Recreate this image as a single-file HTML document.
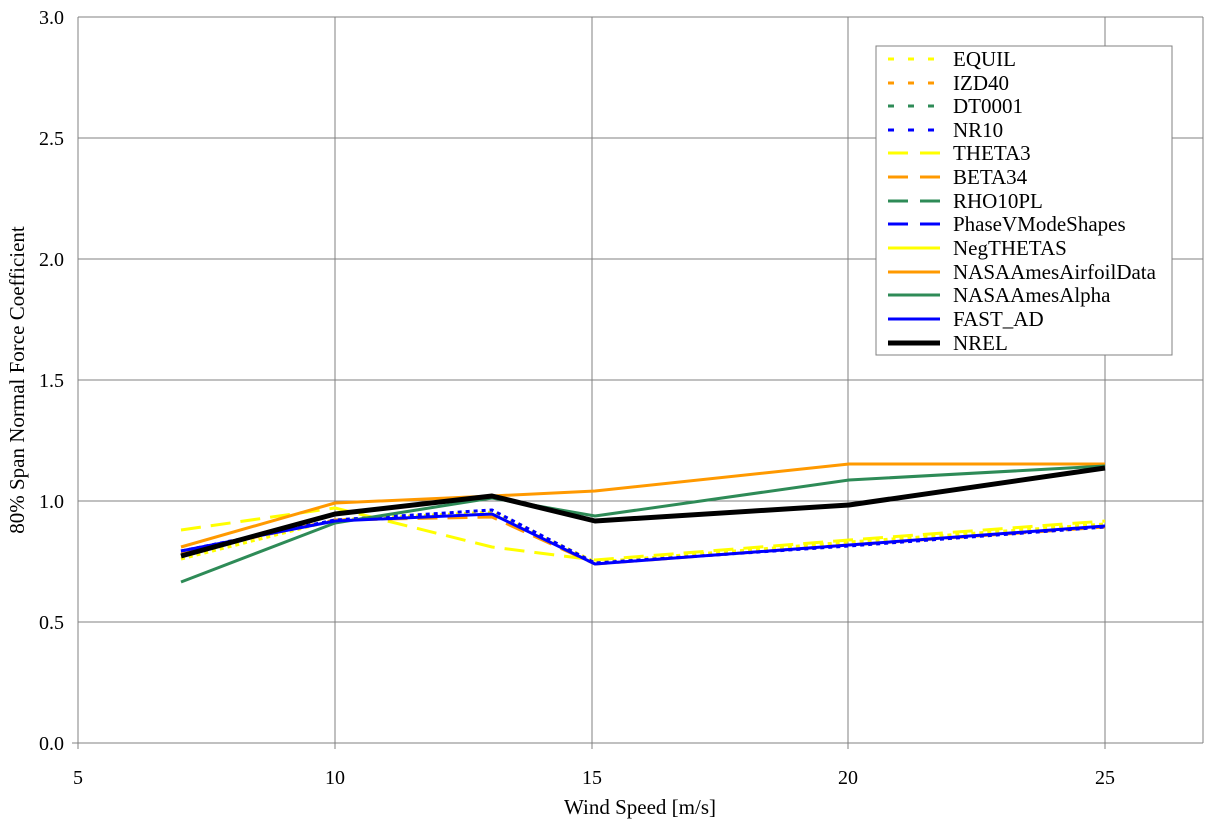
<!DOCTYPE html>
<html><head><style>body{margin:0;background:#fff}</style></head><body>
<svg width="1206" height="822" xmlns="http://www.w3.org/2000/svg" font-family="Liberation Serif, serif">
<rect width="1206" height="822" fill="#fff"/>
<g stroke="#808080" stroke-width="1">
<line x1="78" y1="17" x2="1203" y2="17"/><line x1="78" y1="138" x2="1203" y2="138"/><line x1="78" y1="259" x2="1203" y2="259"/><line x1="78" y1="380" x2="1203" y2="380"/><line x1="78" y1="501" x2="1203" y2="501"/><line x1="78" y1="622" x2="1203" y2="622"/>
<line x1="335" y1="17" x2="335" y2="749"/><line x1="592" y1="17" x2="592" y2="749"/><line x1="848" y1="17" x2="848" y2="749"/><line x1="1105" y1="17" x2="1105" y2="749"/>
<line x1="78" y1="17" x2="78" y2="749"/><line x1="1203" y1="17" x2="1203" y2="743"/>
<line x1="72" y1="743" x2="1203" y2="743"/>
</g>
<g font-size="20" text-anchor="end" fill="#000">
<text x="64" y="24">3.0</text><text x="64" y="145">2.5</text><text x="64" y="266">2.0</text><text x="64" y="387">1.5</text><text x="64" y="508">1.0</text><text x="64" y="629">0.5</text><text x="64" y="750">0.0</text>
</g>
<g font-size="20" text-anchor="middle">
<text x="78" y="784">5</text><text x="335" y="784">10</text><text x="592" y="784">15</text><text x="848" y="784">20</text><text x="1105" y="784">25</text>
</g>
<g font-size="21" text-anchor="middle">
<text x="640" y="814">Wind Speed [m/s]</text>
<text transform="translate(24,380) rotate(-90)">80% Span Normal Force Coefficient</text>
</g>
<g fill="none" stroke-linejoin="round">
<polyline points="181,559 335,520 492,512 595,562 849,542 1105,524" stroke="#ffff00" stroke-width="3" stroke-dasharray="4,4"/>
<polyline points="181,530 335,508 492,547 595,560 849,540 1105,521" stroke="#ffff00" stroke-width="3" stroke-dasharray="20,10"/>
<polyline points="181,553 335,520 492,517 595,564 849,545 1105,527" stroke="#ff9900" stroke-width="3" stroke-dasharray="20,10"/>
<polyline points="181,551 335,520 492,510 595,563 849,546 1105,527" stroke="#0000ff" stroke-width="3" stroke-dasharray="4,4"/>
<polyline points="181,547 335,503 492,496 595,491 849,464 1105,464" stroke="#ff9900" stroke-width="3"/>
<polyline points="181,582 335,523 492,498 595,516 849,480 1105,466" stroke="#2e8b57" stroke-width="3"/>
<polyline points="181,551 335,521 492,514 595,564 849,545 1105,526" stroke="#0000ff" stroke-width="3"/>
<polyline points="181,556 335,514 492,496 595,521 849,505 1105,468" stroke="#000" stroke-width="5"/>
</g>
<rect x="876" y="46" width="296" height="309" fill="#fff" stroke="#808080" stroke-width="1"/>
<g stroke-width="3" fill="none">
<line x1="888" y1="59" x2="940" y2="59" stroke="#ffff00" stroke-dasharray="6,14"/>
<line x1="888" y1="83" x2="940" y2="83" stroke="#ff9900" stroke-dasharray="6,14"/>
<line x1="888" y1="106" x2="940" y2="106" stroke="#2e8b57" stroke-dasharray="6,14"/>
<line x1="888" y1="130" x2="940" y2="130" stroke="#0000ff" stroke-dasharray="6,14"/>
<line x1="888" y1="153" x2="940" y2="153" stroke="#ffff00" stroke-dasharray="20,12"/>
<line x1="888" y1="177" x2="940" y2="177" stroke="#ff9900" stroke-dasharray="20,12"/>
<line x1="888" y1="201" x2="940" y2="201" stroke="#2e8b57" stroke-dasharray="20,12"/>
<line x1="888" y1="224" x2="940" y2="224" stroke="#0000ff" stroke-dasharray="20,12"/>
<line x1="888" y1="248" x2="940" y2="248" stroke="#ffff00"/>
<line x1="888" y1="272" x2="940" y2="272" stroke="#ff9900"/>
<line x1="888" y1="295" x2="940" y2="295" stroke="#2e8b57"/>
<line x1="888" y1="319" x2="940" y2="319" stroke="#0000ff"/>
<line x1="888" y1="343" x2="940" y2="343" stroke="#000" stroke-width="5"/>
</g>
<g font-size="21">
<text x="953" y="66">EQUIL</text><text x="953" y="90">IZD40</text><text x="953" y="113">DT0001</text><text x="953" y="137">NR10</text><text x="953" y="160">THETA3</text><text x="953" y="184">BETA34</text><text x="953" y="208">RHO10PL</text><text x="953" y="231">PhaseVModeShapes</text><text x="953" y="255">NegTHETAS</text><text x="953" y="279">NASAAmesAirfoilData</text><text x="953" y="302">NASAAmesAlpha</text><text x="953" y="326">FAST_AD</text><text x="953" y="350">NREL</text>
</g>
</svg>
</body></html>
